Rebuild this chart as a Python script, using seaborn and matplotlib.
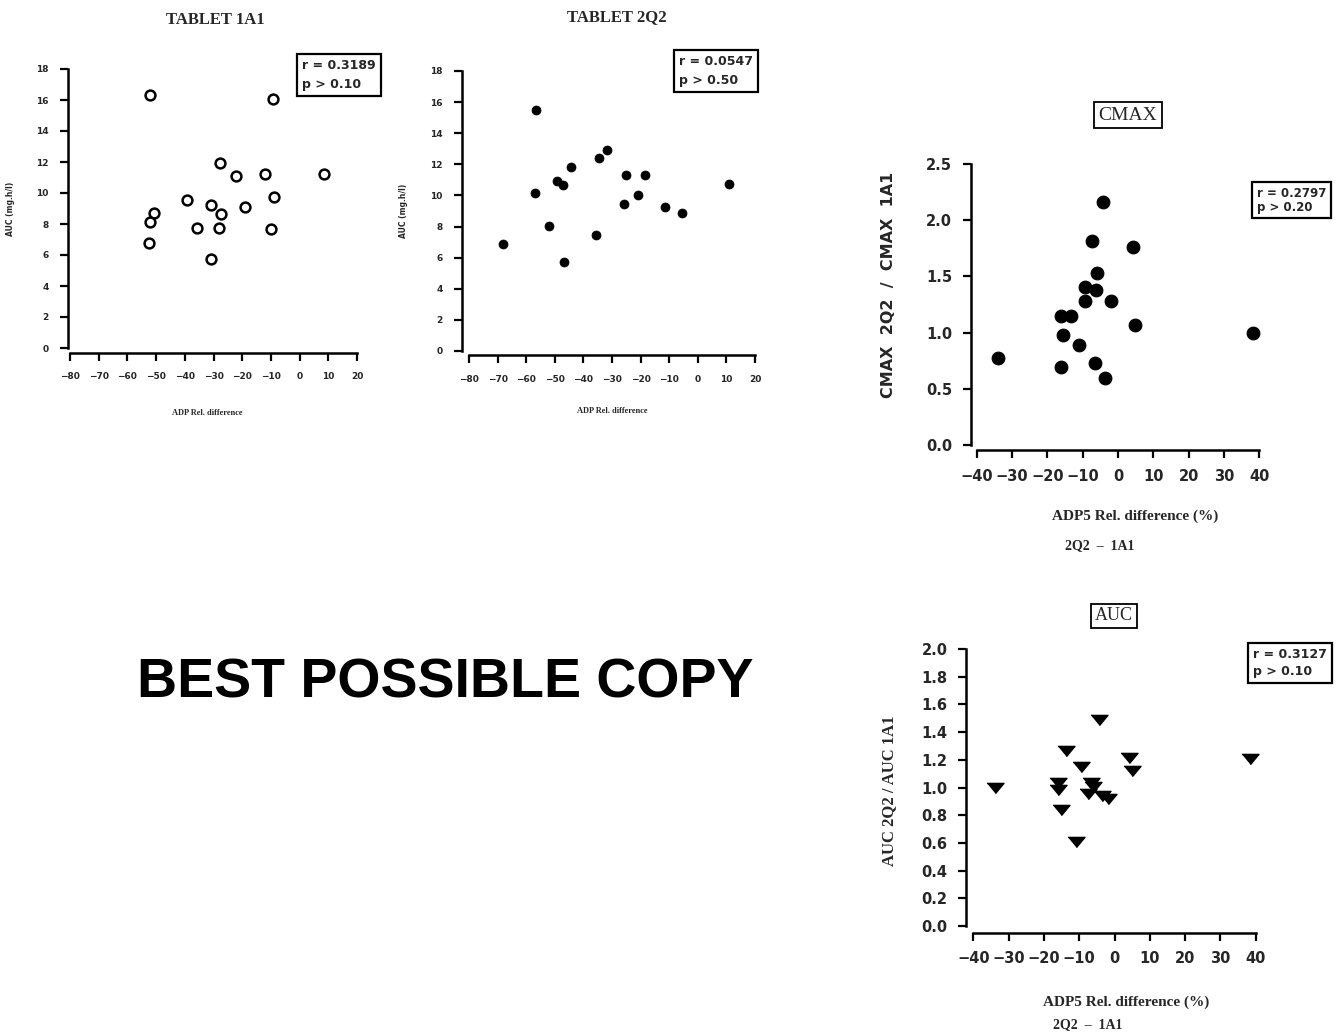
import matplotlib
matplotlib.use("Agg")
import matplotlib.pyplot as plt
import seaborn as sns

# TABLET 1A1: ADP rel. difference vs AUC
adp_1a1 = [-52.1, -9.1, -27.7, -22.2, -12.0, 8.6, -8.8, -39.3, -30.9, -19.0,
           -27.3, -50.7, -52.1, -35.6, -28.0, -9.9, -52.4, -30.8]
auc_1a1 = [16.3, 16.05, 11.95, 11.1, 11.2, 11.25, 9.75, 9.55, 9.2, 9.1,
           8.65, 8.7, 8.15, 7.75, 7.75, 7.7, 6.8, 5.75]

# TABLET 2Q2
adp_2q2 = [-56.7, -31.9, -34.5, -44.5, -25.1, -18.5, -49.1, -47.0, 11.0, -56.9,
           -21.0, -25.7, -11.5, -5.4, -51.9, -35.6, -68.0, -46.9]
auc_2q2 = [15.5, 12.9, 12.4, 11.8, 11.3, 11.3, 10.95, 10.7, 10.75, 10.15,
           10.0, 9.45, 9.25, 8.85, 8.05, 7.45, 6.85, 5.7]

# CMAX ratio vs ADP5 rel. difference (2Q2 - 1A1)
cmax_diff = [-4.3, -7.5, 4.3, -6.0, -9.4, -6.3, -9.4, -2.0, -16.2, -13.4,
             4.8, 38.1, -15.5, -11.0, -33.9, -6.5, -16.1, -3.7]
cmax_ratio = [2.16, 1.815, 1.765, 1.53, 1.41, 1.375, 1.28, 1.28, 1.15, 1.15,
              1.07, 1.0, 0.975, 0.89, 0.77, 0.73, 0.69, 0.6]

# AUC ratio vs ADP5 rel. difference
auc_diff = [-4.3, -13.6, 4.2, 38.4, 5.0, -9.6, -15.9, -15.9, -6.7, -6.1,
            -7.6, -3.6, -1.8, -33.9, -15.2, -10.9]
auc_ratio = [1.49, 1.265, 1.21, 1.205, 1.12, 1.15, 1.03, 0.98, 1.035, 1.005,
             0.95, 0.94, 0.92, 1.0, 0.835, 0.61]

stats = ["r = 0.3189\np > 0.10", "r = 0.0547\np > 0.50",
         "r = 0.2797\np > 0.20", "r = 0.3127\np > 0.10"]

W, H = 1336, 1036

sns.set_style("ticks")
plt.rcParams["font.family"] = ["DejaVu Sans"]
plt.rcParams["font.weight"] = "bold"
serif = "Liberation Serif"


def fx(px):
    return px / W


def fy(py):
    return 1 - py / H


def make_ax(fig, x0, x1, y_top, y_bot):
    return fig.add_axes([fx(x0), fy(y_bot), fx(x1) - fx(x0), (y_bot - y_top) / H])


def style_ax(ax, xticks, yticks, fs, offset, pad, fmt=None):
    ax.set_xlim(xticks[0], xticks[-1])
    ax.set_ylim(yticks[0], yticks[-1])
    ax.set_xticks(xticks)
    ax.set_yticks(yticks)
    if fmt:
        ax.set_yticklabels([fmt.format(v) for v in yticks])
    ax.tick_params(length=6, width=1.6, pad=pad, labelsize=fs, color="black")
    for lab in ax.get_xticklabels() + ax.get_yticklabels():
        lab.set_fontweight("bold")
    sns.despine(ax=ax, offset=offset, trim=True)
    for s in ("left", "bottom"):
        ax.spines[s].set_linewidth(1.8)
        ax.spines[s].set_color("black")


fig = plt.figure(figsize=(W / 100, H / 100), dpi=100)
fig.patch.set_facecolor("white")

# ---- TABLET 1A1 ----
ax1 = make_ax(fig, 70, 357, 69, 348)
sns.scatterplot(x=adp_1a1, y=auc_1a1, ax=ax1, color="white", edgecolor="black",
                linewidth=1.8, s=50, clip_on=False, zorder=3)
style_ax(ax1, list(range(-80, 21, 10)), list(range(0, 19, 2)), 6.5,
         {"left": 1.5, "bottom": 3.6}, pad=8)
ax1.set_ylabel("AUC (mg.h/l)", fontsize=5.5, fontweight="bold")
ax1.yaxis.set_label_coords(-0.19, 0.5)
ax1.set_xlabel("ADP Rel. difference", fontsize=6, fontweight="bold", family=serif)
ax1.xaxis.set_label_coords(0.477, -0.22)
fig.text(fx(215), fy(20), "TABLET 1A1", ha="center", va="center", fontsize=12,
         family=serif, fontweight="bold")

# ---- TABLET 2Q2 ----
ax2 = make_ax(fig, 469, 755, 71, 351)
sns.scatterplot(x=adp_2q2, y=auc_2q2, ax=ax2, color="black", edgecolor="black",
                s=42, clip_on=False, zorder=3)
style_ax(ax2, list(range(-80, 21, 10)), list(range(0, 19, 2)), 6.5,
         {"left": 5, "bottom": 3.2}, pad=8)
ax2.set_ylabel("AUC (mg.h/l)", fontsize=5.5, fontweight="bold")
ax2.yaxis.set_label_coords(-0.213, 0.5)
ax2.set_xlabel("ADP Rel. difference", fontsize=6, fontweight="bold", family=serif)
ax2.xaxis.set_label_coords(0.5, -0.2)
fig.text(fx(617), fy(17), "TABLET 2Q2", ha="center", va="center", fontsize=12,
         family=serif, fontweight="bold")

# ---- CMAX ----
ax3 = make_ax(fig, 976.7, 1259.3, 164, 445)
sns.scatterplot(x=cmax_diff, y=cmax_ratio, ax=ax3, color="black", edgecolor="black",
                s=85, clip_on=False, zorder=3)
style_ax(ax3, list(range(-40, 41, 10)), [0, 0.5, 1.0, 1.5, 2.0, 2.5], 10.5,
         {"left": 4.3, "bottom": 3.6}, pad=7.5, fmt="{:.1f}")
ax3.set_ylabel("CMAX  2Q2  /  CMAX  1A1", fontsize=11.5, fontweight="bold")
ax3.yaxis.set_label_coords(-0.285, 0.57)
ax3.set_xlabel("ADP5 Rel. difference (%)", fontsize=11, fontweight="bold", family=serif)
ax3.xaxis.set_label_coords(0.56, -0.231)
fig.text(fx(1100), fy(546), "2Q2  \u2013  1A1", ha="center", va="center",
         fontsize=10, family=serif, fontweight="bold")
fig.text(fx(1128), fy(115), "CMAX", ha="center", va="center", fontsize=14,
         family=serif, fontweight="normal",
         bbox=dict(boxstyle="square,pad=0.25", fc="white", ec="black", lw=1.3))

# ---- AUC ----
ax4 = make_ax(fig, 973.3, 1255.7, 649, 926)
sns.scatterplot(x=auc_diff, y=auc_ratio, ax=ax4, color="black", edgecolor="black",
                marker=[(-1, 0.6), (1, 0.6), (0, -0.6)], s=150, clip_on=False,
                zorder=3)
style_ax(ax4, list(range(-40, 41, 10)), [round(0.2 * i, 1) for i in range(11)], 10.5,
         {"left": 5, "bottom": 4.8}, pad=7.5, fmt="{:.1f}")
ax4.set_ylabel("AUC 2Q2 / AUC 1A1", fontsize=12, fontweight="bold", family=serif)
ax4.yaxis.set_label_coords(-0.27, 0.49)
ax4.set_xlabel("ADP5 Rel. difference (%)", fontsize=11, fontweight="bold", family=serif)
ax4.xaxis.set_label_coords(0.54, -0.25)
fig.text(fx(1088), fy(1025), "2Q2  \u2013  1A1", ha="center", va="center",
         fontsize=10, family=serif, fontweight="bold")
fig.text(fx(1114), fy(616), "AUC", ha="center", va="center", fontsize=13,
         family=serif, fontweight="normal",
         bbox=dict(boxstyle="square,pad=0.2", fc="white", ec="black", lw=1.3))

# ---- statistics boxes ----
box = dict(boxstyle="square,pad=0.4", fc="white", ec="black", lw=1.6)
for (px, py, ls, fs), txt in zip([(302, 75, 1.6, 9), (679, 71, 1.6, 9),
                                  (1257, 200, 1.1, 8.5), (1253, 663, 1.35, 9)], stats):
    fig.text(fx(px), fy(py), txt, ha="left", va="center", fontsize=fs,
             fontweight="bold", linespacing=ls, bbox=box)

# ---- stamp ----
fig.text(fx(445), fy(683), "BEST POSSIBLE COPY", ha="center", va="center",
         fontsize=40, family="Liberation Sans", fontweight="bold", color="black")

fig.savefig("out.png", dpi=100, facecolor="white")
